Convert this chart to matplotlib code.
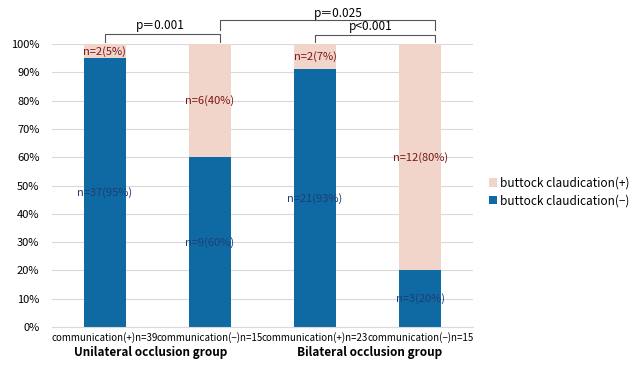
import matplotlib.pyplot as plt

plt.rcParams['font.family'] = ['Noto Sans CJK JP', 'DejaVu Sans']

categories = ['communication(+)n=39', 'communication(−)n=15',
              'communication(+)n=23', 'communication(−)n=15']
groups = ['Unilateral occlusion group', 'Bilateral occlusion group']
neg_pct = [95, 60, 91, 20]   # buttock claudication(-)
pos_pct = [5, 40, 9, 80]     # buttock claudication(+)
neg_labels = ['n=37(95%)', 'n=9(60%)', 'n=21(93%)', 'n=3(20%)']
pos_labels = ['n=2(5%)', 'n=6(40%)', 'n=2(7%)', 'n=12(80%)']

blue = '#0f69a2'
pink = '#f1d5cb'

fig = plt.figure(figsize=(6.34, 3.65), dpi=100)
ax = fig.add_axes([52/634, 1-327/365, 421/634, 283/365])

x = range(len(categories))
ax.bar(x, neg_pct, width=0.4, color=blue, label='buttock claudication(−)', zorder=2)
ax.bar(x, pos_pct, width=0.4, bottom=neg_pct, color=pink,
       label='buttock claudication(+)', zorder=2)

for i in x:
    ax.text(i, neg_pct[i] / 2, neg_labels[i], ha='center', va='center',
            fontsize=8, color='#1d3f78', zorder=3)
    ax.text(i, neg_pct[i] + pos_pct[i] / 2, pos_labels[i], ha='center', va='center',
            fontsize=8, color='#7a1616', zorder=3)

ax.set_xlim(-0.5, 3.5)
ax.set_ylim(0, 100)
ax.set_yticks(range(0, 101, 10))
ax.set_yticklabels([f'{v}%' for v in range(0, 101, 10)], fontsize=8)
ax.set_xticks(list(x))
ax.set_xticklabels(categories, fontsize=7)
ax.tick_params(axis='x', length=0, pad=4)
ax.tick_params(axis='y', length=0, pad=9)
ax.grid(axis='y', color='#d9d9d9', linewidth=0.8, zorder=0)
for s in ['top', 'right', 'left']:
    ax.spines[s].set_visible(False)
ax.spines['bottom'].set_color('#d9d9d9')

# group labels
ax.text(0.44, -0.09, groups[0], transform=ax.get_xaxis_transform(), ha='center',
        va='center', fontsize=8.5, fontweight='bold')
ax.text(2.52, -0.09, groups[1], transform=ax.get_xaxis_transform(), ha='center',
        va='center', fontsize=8.5, fontweight='bold')

# significance brackets
def bracket(x0, x1, y, ytip, txt, tx, ty):
    ax.plot([x0, x0, x1, x1], [ytip, y, y, ytip], color='#555555', lw=0.8,
            clip_on=False)
    ax.text(tx, ty, txt, ha='center', va='center', fontsize=8.5, clip_on=False)

bracket(0.0, 1.1, 103.5, 100.7, 'p＝0.001', 0.53, 106.6)
bracket(1.1, 3.14, 108.5, 105.0, 'p＝0.025', 2.22, 110.8)
bracket(2.0, 3.14, 103.3, 100.7, 'p<0.001', 2.53, 106.2)

h, l = ax.get_legend_handles_labels()
fig.legend(h[::-1], l[::-1], loc='center left', bbox_to_anchor=(478/634, 1-192/365),
           frameon=False, fontsize=8.5, handlelength=0.7, handleheight=0.7,
           handletextpad=0.3, labelspacing=0.4)

fig.savefig('out.png', dpi=100)
